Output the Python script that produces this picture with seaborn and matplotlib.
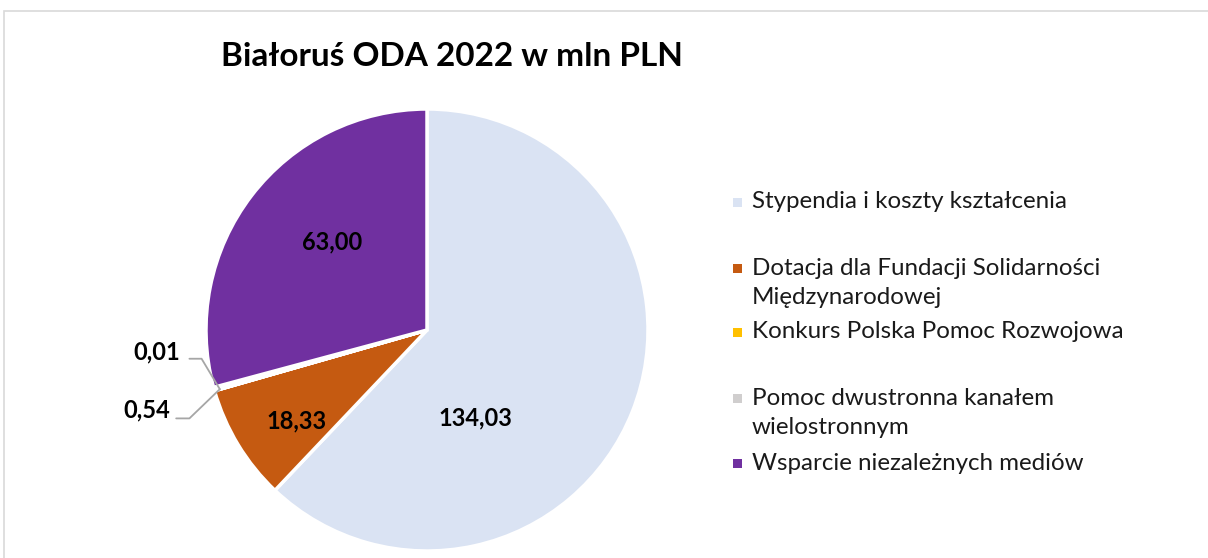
import matplotlib
matplotlib.use("Agg")
import matplotlib.pyplot as plt
import matplotlib.patches as mpatches
import seaborn as sns
import numpy as np

sns.set_theme(style="white")
plt.rcParams['font.family'] = ['Lato', 'DejaVu Sans']

# ---- data ----
categories = ["Stypendia i koszty kształcenia",
              "Dotacja dla Fundacji Solidarności\nMiędzynarodowej",
              "Konkurs Polska Pomoc Rozwojowa",
              "Pomoc dwustronna kanałem\nwielostronnym",
              "Wsparcie niezależnych mediów"]
values = [134.03, 18.33, 0.01, 0.54, 63.00]
value_labels = ["134,03", "18,33", "0,01", "0,54", "63,00"]
colors = ["#DAE3F3", "#C55A11", "#FFC000", "#D0CECE", "#7030A0"]
title = "Białoruś ODA 2022 w mln PLN"

W, H = 1208, 558
fig = plt.figure(figsize=(W / 100, H / 100), dpi=100)

# outer frame
frame = mpatches.Rectangle((3.5 / W, -0.05), 1.1, 1 - 11 / H + 0.05,
                           transform=fig.transFigure, fill=False,
                           edgecolor="#D9D9D9", linewidth=1.2)
fig.patches.append(frame)

cx, cy, r = 427, 330, 221
ax = fig.add_axes([(cx - r) / W, (H - cy - r) / H, 2 * r / W, 2 * r / H])
wedges, _ = ax.pie(values, colors=colors, startangle=90, counterclock=False,
                   radius=1, wedgeprops=dict(edgecolor="white", linewidth=2.5))
ax.set_xlim(-1, 1)
ax.set_ylim(-1, 1)
ax.set_aspect("equal")
ax.axis("off")

# inside labels (positions relative to radius)
inside_pos = {0: (0.22, -0.40), 1: (-0.59, -0.41), 4: (-0.43, 0.40)}
for i, (px, py) in inside_pos.items():
    ax.text(px, py, value_labels[i], ha="center", va="center",
            fontsize=17, fontweight="bold", color="black")

# outside labels with leader lines for tiny slices
ang = np.deg2rad((wedges[2].theta1 + wedges[3].theta2) / 2)
ex, ey = np.cos(ang) * 0.975, np.sin(ang) * 0.975
outside = {2: ((-1.075, -0.13), (-1.02, -0.13), (-1.225, -0.10)),
           3: ((-1.135, -0.40), (-1.075, -0.40), (-1.27, -0.36))}
for i, (p1, p2, tp) in outside.items():
    ax.plot([p1[0], p2[0], ex], [p1[1], p2[1], ey], color="#A6A6A6",
            linewidth=1.3, clip_on=False)
    ax.text(tp[0], tp[1], value_labels[i], ha="center", va="center",
            fontsize=17, fontweight="bold", color="black")

fig.text(452 / W, 1 - 57 / H, title, ha="center", va="center",
         fontsize=24, fontweight="bold", color="black")

# legend (y of first text line for each entry)
leg_y = [202, 268, 332, 398, 463]
line_gap = 30
for cat, col, y in zip(categories, colors, leg_y):
    n = cat.count("\n") + 1
    fig.patches.append(mpatches.Rectangle((733 / W, 1 - (y + 4.5) / H), 9 / W, 9 / H,
                                          transform=fig.transFigure,
                                          facecolor=col, edgecolor="none"))
    yc = y + (n - 1) * line_gap / 2
    fig.text(752 / W, 1 - yc / H, cat, ha="left", va="center", fontsize=17.4,
             color="#1a1a1a", linespacing=1.5)

fig.savefig("out.png", dpi=100, facecolor="white")
